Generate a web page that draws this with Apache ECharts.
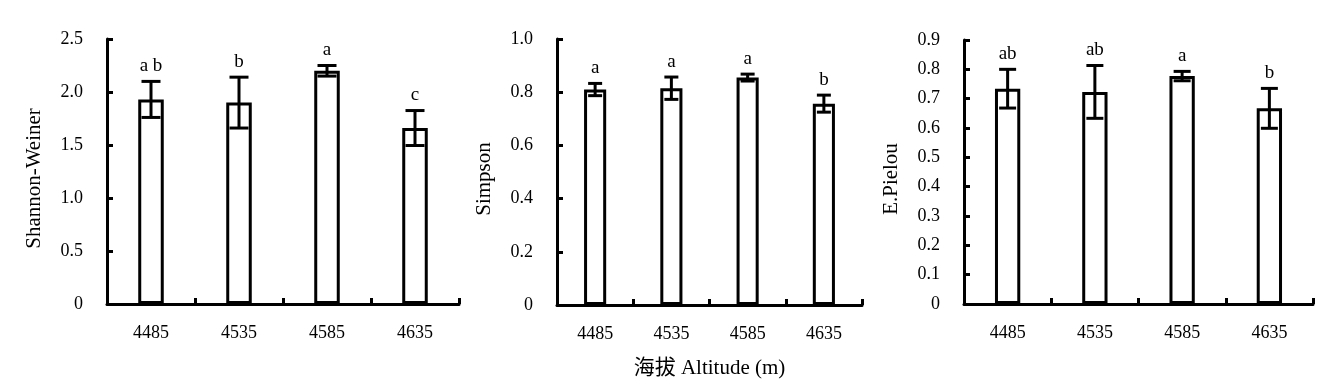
<!DOCTYPE html>
<html><head><meta charset="utf-8">
<script src="https://cdn.jsdelivr.net/npm/echarts@6/dist/echarts.min.js"></script>
<style>html,body{margin:0;padding:0;background:#fff}#c{width:1318px;height:384px}</style>
</head><body><div id="c"></div>
<script>
const categories = ['4485', '4535', '4585', '4635'];
const shannonMean = [1.93, 1.90, 2.20, 1.66];
const shannonErr = [0.17, 0.24, 0.05, 0.165];
const shannonLetters = ['a b', 'b', 'a', 'c'];
const simpsonMean = [0.81, 0.815, 0.855, 0.757];
const simpsonErr = [0.023, 0.042, 0.013, 0.032];
const simpsonLetters = ['a', 'a', 'a', 'b'];
const pielouMean = [0.734, 0.723, 0.777, 0.667];
const pielouErr = [0.066, 0.09, 0.016, 0.068];
const pielouLetters = ['ab', 'ab', 'a', 'b'];
const yNames = ['Shannon-Weiner', 'Simpson', 'E.Pielou'];
const yMax = [2.5, 1.0, 0.9];
const yInterval = [0.5, 0.2, 0.1];
const xTitle = '海拔 Altitude (m)';

const FONT = '"Liberation Serif", "Times New Roman", "Noto Sans CJK SC", serif';
const panels = [
  {mean: shannonMean, err: shannonErr, letters: shannonLetters, grid: {left: 107, top: 39, width: 352, height: 265}, cap: 19},
  {mean: simpsonMean, err: simpsonErr, letters: simpsonLetters, grid: {left: 557, top: 39, width: 305, height: 266}, cap: 14},
  {mean: pielouMean, err: pielouErr, letters: pielouLetters, grid: {left: 964, top: 40, width: 349, height: 264}, cap: 17}
];

const grids = [], xAxes = [], yAxes = [], series = [];
panels.forEach((p, k) => {
  grids.push(Object.assign({containLabel: false}, p.grid));
  xAxes.push({
    type: 'category', gridIndex: k, data: categories,
    axisLine: {lineStyle: {color: '#000', width: 3}},
    axisTick: {show: true, interval: 0, inside: true, length: 6, lineStyle: {color: '#000', width: 3}},
    axisLabel: {color: '#000', fontFamily: FONT, fontSize: 18, margin: 20, interval: 0},
    name: k === 1 ? xTitle : '', nameLocation: 'middle', nameGap: 53,
    nameTextStyle: {color: '#000', fontFamily: FONT, fontSize: 21}
  });
  yAxes.push({
    type: 'value', gridIndex: k, min: 0, max: yMax[k], interval: yInterval[k],
    splitLine: {show: false},
    axisLine: {show: true, lineStyle: {color: '#000', width: 3}},
    axisTick: {show: true, inside: true, length: 6, lineStyle: {color: '#000', width: 3}},
    axisLabel: {color: '#000', fontFamily: FONT, fontSize: 18, margin: 24,
      formatter: v => v === 0 ? '0' : v.toFixed(1)},
    name: yNames[k], nameLocation: 'middle', nameGap: 62,
    nameTextStyle: {color: '#000', fontFamily: FONT, fontSize: 21, padding: [0, 14, 0, 0]}
  });
  series.push({
    type: 'bar', xAxisIndex: k, yAxisIndex: k, data: p.mean, barWidth: '29%',
    itemStyle: {color: '#fff', borderColor: '#000', borderWidth: 3}, silent: true, z: 2
  });
  series.push({
    type: 'custom', xAxisIndex: k, yAxisIndex: k, z: 5, silent: true,
    data: p.mean.map((m, i) => [i, m, p.err[i]]),
    renderItem: (params, api) => {
      const x = api.value(0), m = api.value(1), e = api.value(2);
      const top = api.coord([x, m + e]);
      const bot = api.coord([x, m - e]);
      const hw = p.cap / 2;
      const st = {stroke: '#000', lineWidth: 3};
      return {type: 'group', children: [
        {type: 'line', shape: {x1: top[0], y1: top[1], x2: bot[0], y2: bot[1]}, style: st},
        {type: 'line', shape: {x1: top[0] - hw, y1: top[1], x2: top[0] + hw, y2: top[1]}, style: st},
        {type: 'line', shape: {x1: bot[0] - hw, y1: bot[1], x2: bot[0] + hw, y2: bot[1]}, style: st},
        {type: 'text', x: top[0], y: top[1] - 6, style: {text: p.letters[params.dataIndex], fill: '#000',
          font: '19px ' + FONT, align: 'center', verticalAlign: 'bottom'}}
      ]};
    }
  });
});

const chart = echarts.init(document.getElementById('c'), null, {renderer: 'canvas'});
chart.setOption({animation: false, backgroundColor: '#fff', grid: grids, xAxis: xAxes, yAxis: yAxes, series: series});
</script></body></html>
